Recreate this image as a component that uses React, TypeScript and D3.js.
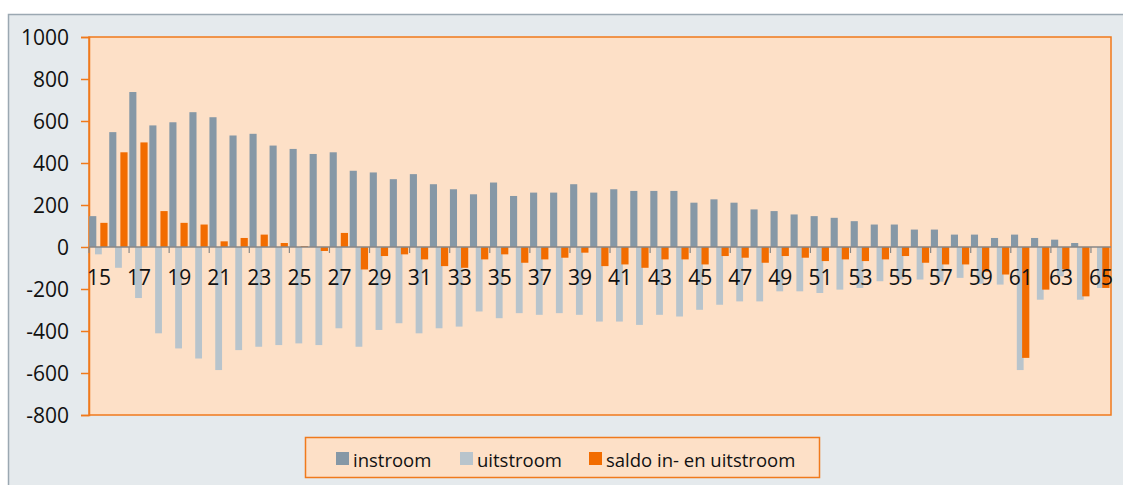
import { useEffect, useRef } from 'react';
import * as d3 from 'd3';

// leeftijden 15 t/m 65
const AGES = d3.range(15, 66);

const INSTROOM = [
  147, 547, 738, 579, 594, 642, 618, 531, 539, 483,
  467, 443, 451, 363, 355, 323, 347, 299, 275, 251,
  307, 243, 259, 259, 299, 259, 275, 267, 267, 267,
  211, 227, 211, 179, 171, 155, 147, 139, 123, 107,
  107, 83, 83, 59, 59, 43, 59, 43, 35, 19,
  0,
];

const UITSTROOM = [
  -35, -99, -243, -411, -483, -531, -586, -491, -475, -467,
  -459, -467, -387, -475, -395, -363, -411, -387, -379, -307,
  -339, -315, -323, -315, -323, -355, -355, -371, -323, -331,
  -299, -275, -259, -259, -211, -211, -219, -203, -195, -163,
  -155, -155, -165, -147, -175, -179, -586, -251, -140, -251,
  -195,
];

const SALDO = [
  115, 451, 498, 171, 115, 107, 27, 43, 59, 19,
  4, -19, 67, -107, -43, -35, -59, -91, -99, -59,
  -35, -75, -59, -51, -27, -91, -83, -99, -59, -59,
  -83, -43, -51, -75, -43, -51, -67, -59, -67, -59,
  -43, -75, -83, -83, -118, -131, -528, -203, -106, -235,
  -195,
];

const Y_TICKS = [-800, -600, -400, -200, 0, 200, 400, 600, 800, 1000];
const X_LABELS = AGES.filter((a) => a % 2 === 1);

const SERIES = [
  { name: 'instroom', values: INSTROOM, color: '#8698a6', offset: 0.01, width: 0.355 },
  { name: 'uitstroom', values: UITSTROOM, color: '#b8c4cc', offset: 0.3, width: 0.34 },
  { name: 'saldo in- en uitstroom', values: SALDO, color: '#f26c00', offset: 0.565, width: 0.36 },
];

const W = 1123;
const H = 485;
const PLOT = { left: 89, right: 1111, top: 37, bottom: 415 };
const FONT = "'Open Sans', sans-serif";
const ORANGE = '#f07a1c';
const PEACH = '#fde0c7';
const TEXT = '#111111';

export default function App() {
  const svgRef = useRef<SVGSVGElement>(null);

  useEffect(() => {
    const svg = d3.select(svgRef.current!);
    svg.selectAll('*').remove();

    const x = d3.scaleBand<number>().domain(AGES).range([PLOT.left, PLOT.right]).padding(0);
    const y = d3.scaleLinear().domain([-800, 1000]).range([PLOT.bottom, PLOT.top]);
    const bw = x.bandwidth();

    // outer frame
    svg.append('rect')
      .attr('x', 8.5).attr('y', 14.5)
      .attr('width', W + 20).attr('height', H + 20)
      .attr('fill', '#e5eaed')
      .attr('stroke', '#9ba8b2')
      .attr('stroke-width', 1.5);

    // plot area
    svg.append('rect')
      .attr('x', PLOT.left).attr('y', PLOT.top)
      .attr('width', PLOT.right - PLOT.left).attr('height', PLOT.bottom - PLOT.top)
      .attr('fill', PEACH)
      .attr('stroke', ORANGE)
      .attr('stroke-width', 1.5);

    // y axis
    svg.append('g')
      .attr('transform', `translate(${PLOT.left},0)`)
      .call(
        d3.axisLeft(y)
          .tickValues(Y_TICKS)
          .tickFormat((d) => String(d))
          .tickSize(8)
          .tickPadding(12)
      )
      .call((ax) => {
        ax.select('.domain').attr('stroke', ORANGE).attr('stroke-width', 1.5);
        ax.selectAll('.tick line').attr('stroke', ORANGE).attr('stroke-width', 1.5);
        ax.selectAll('.tick text')
          .attr('fill', TEXT)
          .attr('font-size', 21)
          .attr('font-family', FONT)
          .attr('dy', '0.38em');
      });

    // bars
    for (const s of SERIES) {
      svg.append('g')
        .selectAll('rect')
        .data(s.values)
        .join('rect')
        .attr('x', (_, i) => x(AGES[i])! + bw * s.offset)
        .attr('width', bw * s.width)
        .attr('y', (d) => y(Math.max(0, d)))
        .attr('height', (d) => Math.abs(y(d) - y(0)))
        .attr('fill', s.color);
    }

    // zero line + ticks
    const y0 = y(0);
    svg.append('line')
      .attr('x1', PLOT.left).attr('x2', PLOT.right)
      .attr('y1', y0).attr('y2', y0)
      .attr('stroke', '#878787')
      .attr('stroke-width', 1.6);

    svg.append('g')
      .selectAll('line')
      .data(X_LABELS)
      .join('line')
      .attr('x1', (d) => x(d)!).attr('x2', (d) => x(d)!)
      .attr('y1', y0).attr('y2', y0 + 6)
      .attr('stroke', '#878787')
      .attr('stroke-width', 1.2);

    svg.append('g')
      .selectAll('text')
      .data(X_LABELS)
      .join('text')
      .attr('x', (d) => x(d)! + bw / 2)
      .attr('y', y0 + 30)
      .attr('dy', '0.38em')
      .attr('text-anchor', 'middle')
      .attr('font-size', 21)
      .attr('font-family', FONT)
      .attr('fill', TEXT)
      .text((d) => String(d));

    // legend
    const lg = svg.append('g');
    lg.append('rect')
      .attr('x', 305.5).attr('y', 437.5)
      .attr('width', 514).attr('height', 40)
      .attr('fill', PEACH)
      .attr('stroke', ORANGE)
      .attr('stroke-width', 1.5);
    const itemX = [336, 460, 589];
    SERIES.forEach((s, i) => {
      lg.append('rect')
        .attr('x', itemX[i]).attr('y', 452)
        .attr('width', 13).attr('height', 13)
        .attr('fill', s.color);
      lg.append('text')
        .attr('x', itemX[i] + 17).attr('y', 467)
        .attr('font-size', 18.5)
        .attr('font-family', FONT)
        .attr('fill', TEXT)
        .text(s.name);
    });
  }, []);

  return (
    <svg
      ref={svgRef}
      width={W}
      height={H}
      style={{ position: 'absolute', left: 0, top: 0, display: 'block' }}
    />
  );
}
